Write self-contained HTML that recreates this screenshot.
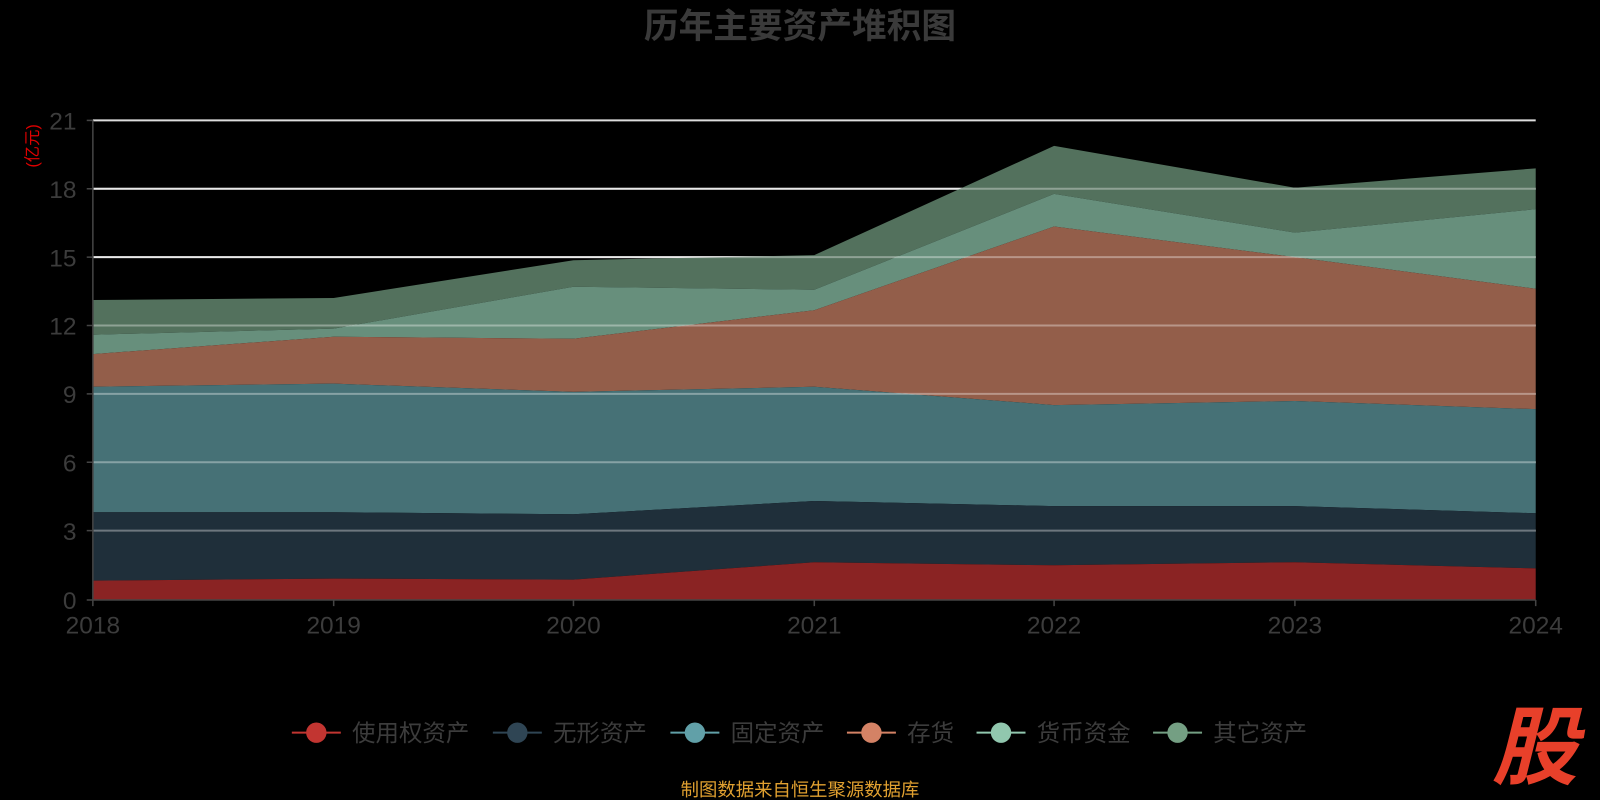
<!DOCTYPE html>
<html><head><meta charset="utf-8"><style>
html,body{margin:0;padding:0;background:#000;width:1600px;height:800px;overflow:hidden}
svg{display:block}
text{font-family:"Liberation Sans","Noto Sans CJK SC",sans-serif}
</style></head><body>
<svg width="1600" height="800" viewBox="0 0 1568 784" xmlns="http://www.w3.org/2000/svg">
<rect width="1568" height="784" fill="#000"/>
<text x="784" y="37" text-anchor="middle" font-size="34" font-weight="bold" fill="#3a3a3a">历年主要资产堆积图</text>
<text transform="translate(37,143) rotate(-90)" text-anchor="middle" font-size="16" fill="#e00000">(亿元)</text>
<g stroke="#ddd" stroke-width="2">
<line x1="91" x2="1505" y1="118" y2="118"/><line x1="91" x2="1505" y1="185" y2="185"/>
<line x1="91" x2="1505" y1="252" y2="252"/><line x1="91" x2="1505" y1="319" y2="319"/>
<line x1="91" x2="1505" y1="386" y2="386"/><line x1="91" x2="1505" y1="453" y2="453"/>
<line x1="91" x2="1505" y1="520" y2="520"/>
</g>
<g>
<polygon fill="#53715d" points="91,294 327,292 562,255 798,250 1033,143 1269,184 1505,165 1505,205 1269,228 1033,190 798,284 562,281 327,322 91,328"/>
<polygon fill="#678f7c" points="91,328 327,322 562,281 798,284 1033,190 1269,228 1505,205 1505,283 1269,252 1033,222 798,304 562,332 327,330 91,347"/>
<polygon fill="#935e4a" points="91,347 327,330 562,332 798,304 1033,222 1269,252 1505,283 1505,401 1269,393 1033,397 798,379 562,384 327,376 91,379"/>
<polygon fill="#467176" points="91,379 327,376 562,384 798,379 1033,397 1269,393 1505,401 1505,503 1269,496 1033,496 798,491 562,504 327,502 91,502"/>
<polygon fill="#1f2f3a" points="91,502 327,502 562,504 798,491 1033,496 1269,496 1505,503 1505,557 1269,551 1033,554 798,551 562,568 327,567 91,569"/>
<polygon fill="#8a2323" points="91,569 327,567 562,568 798,551 1033,554 1269,551 1505,557 1505,588 91,588"/>
</g>
<g stroke="rgba(255,255,255,0.35)" stroke-width="2">
<line x1="91" x2="1505" y1="319" y2="319"/><line x1="91" x2="1505" y1="386" y2="386"/>
<line x1="91" x2="1505" y1="453" y2="453"/><line x1="91" x2="1505" y1="520" y2="520"/>
<line x1="91" x2="1505" y1="252" y2="252"/><line x1="91" x2="1505" y1="185" y2="185"/>
</g>
<g stroke="#444" stroke-width="1.5">
<line x1="91" x2="91" y1="118" y2="588"/><line x1="91" x2="1505" y1="588" y2="588"/>
<line x1="85" x2="91" y1="118" y2="118"/><line x1="85" x2="91" y1="185" y2="185"/><line x1="85" x2="91" y1="252" y2="252"/><line x1="85" x2="91" y1="319" y2="319"/><line x1="85" x2="91" y1="386" y2="386"/><line x1="85" x2="91" y1="453" y2="453"/><line x1="85" x2="91" y1="520" y2="520"/><line x1="85" x2="91" y1="588" y2="588"/>
<line x1="91" x2="91" y1="588" y2="594"/><line x1="327" x2="327" y1="588" y2="594"/><line x1="562" x2="562" y1="588" y2="594"/><line x1="798" x2="798" y1="588" y2="594"/><line x1="1033" x2="1033" y1="588" y2="594"/><line x1="1269" x2="1269" y1="588" y2="594"/><line x1="1505" x2="1505" y1="588" y2="594"/>
</g>
<g font-size="24" fill="#3c3c3c" text-anchor="end">
<text x="75" y="127">21</text><text x="75" y="194">18</text><text x="75" y="261">15</text><text x="75" y="328">12</text><text x="75" y="395">9</text><text x="75" y="462">6</text><text x="75" y="529">3</text><text x="75" y="597">0</text>
</g>
<g font-size="24" fill="#3c3c3c" text-anchor="middle">
<text x="91" y="621">2018</text><text x="327" y="621">2019</text><text x="562" y="621">2020</text><text x="798" y="621">2021</text><text x="1033" y="621">2022</text><text x="1269" y="621">2023</text><text x="1505" y="621">2024</text>
</g>
<g font-size="23" fill="#3c3c3c">
<line x1="286" x2="334" y1="718" y2="718" stroke="#c23531" stroke-width="2"/><circle cx="310" cy="718" r="10" fill="#c23531"/><text x="345" y="726">使用权资产</text>
<line x1="483" x2="531" y1="718" y2="718" stroke="#2f4554" stroke-width="2"/><circle cx="507" cy="718" r="10" fill="#2f4554"/><text x="542" y="726">无形资产</text>
<line x1="657" x2="705" y1="718" y2="718" stroke="#61a0a8" stroke-width="2"/><circle cx="681" cy="718" r="10" fill="#61a0a8"/><text x="716" y="726">固定资产</text>
<line x1="830" x2="878" y1="718" y2="718" stroke="#d48265" stroke-width="2"/><circle cx="854" cy="718" r="10" fill="#d48265"/><text x="889" y="726">存货</text>
<line x1="957" x2="1005" y1="718" y2="718" stroke="#91c7ae" stroke-width="2"/><circle cx="981" cy="718" r="10" fill="#91c7ae"/><text x="1016" y="726">货币资金</text>
<line x1="1130" x2="1178" y1="718" y2="718" stroke="#749f83" stroke-width="2"/><circle cx="1154" cy="718" r="10" fill="#749f83"/><text x="1189" y="726">其它资产</text>
</g>
<text x="784" y="780" text-anchor="middle" font-size="18" fill="#e0a030">制图数据来自恒生聚源数据库</text>
<text x="1504" y="762" text-anchor="middle" font-size="84" font-weight="bold" font-style="italic" fill="#e8402a">股</text>
</svg>
</body></html>
